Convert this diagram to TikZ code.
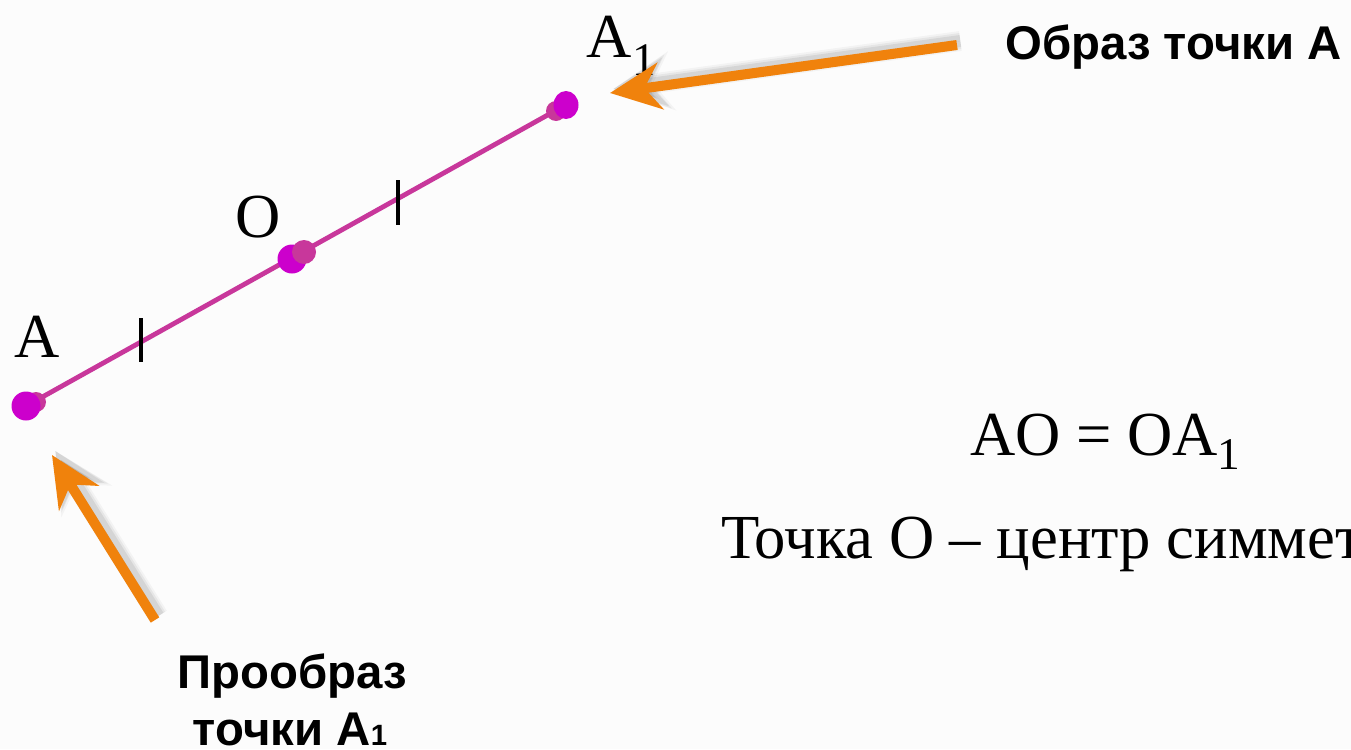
\documentclass[tikz,border=0pt]{standalone}
\usepackage{fontspec}
\setmainfont{Liberation Serif}
\newfontfamily\sansf{Liberation Sans}
\usetikzlibrary{arrows.meta}
\definecolor{bg}{HTML}{FCFCFC}
\definecolor{seg}{HTML}{C8379B}
\definecolor{mag}{HTML}{CC00CC}
\definecolor{dotpink}{HTML}{C8379B}
\definecolor{orng}{HTML}{F0820C}
\newcommand{\subone}{\kern1pt\raisebox{-13pt}{\fontsize{35}{36}\selectfont 1}}
\newcommand{\subonelow}{\raisebox{-11pt}{\fontsize{34}{36}\selectfont 1}}
\begin{document}
\begin{tikzpicture}[x=0.75pt,y=-0.75pt,
  lbl/.style={font=\fontsize{47}{50}\selectfont, inner sep=0pt, anchor=base west},
  call/.style={font=\sansf\bfseries\fontsize{35.5}{38}\selectfont, inner sep=0pt, anchor=base},
  pointer/.style={draw=orng, line width=7.5pt, -{Stealth[length=38pt,width=35pt,inset=12pt]}},
  blurA/.style={draw=black, draw opacity=0.035, line width=15pt, -{Stealth[length=44pt,width=44pt,inset=14pt]}, fill opacity=0.035, fill=black},
  blurB/.style={draw=black, draw opacity=0.05, line width=12pt, -{Stealth[length=41pt,width=40pt,inset=13pt]}, fill opacity=0.05, fill=black},
  blurC/.style={draw=black, draw opacity=0.07, line width=9pt, -{Stealth[length=39pt,width=36pt,inset=12pt]}, fill opacity=0.07, fill=black},
  tick/.style={draw=black, line width=2.6pt},
  segment/.style={draw=seg, line width=3.6pt},
  magdot/.style={fill=mag},
  pinkdot/.style={fill=dotpink}
]
\fill[bg] (0,0) rectangle (1351,749);
\useasboundingbox (0,0) rectangle (1351,749);
\clip (0,0) rectangle (1351,749);

% points
\coordinate (A) at (28,405);
\coordinate (A1) at (562,107);
\coordinate (O) at (295,256);

% segment
\draw[segment] (A) -- (A1);

% ticks
\coordinate (k1t) at (141,318);
\coordinate (k1b) at (141,362);
\coordinate (k2t) at (398,180);
\coordinate (k2b) at (398,225);
\draw[tick] (k1t) -- (k1b);
\draw[tick] (k2t) -- (k2b);

% dots
\fill[pinkdot] (36,402) circle[radius=10];
\fill[magdot] (26,406) circle[radius=14.5];
\fill[magdot] (292,259) circle[radius=14.5];
\fill[pinkdot] (304,252) circle[radius=12];
\fill[pinkdot] (556,111) circle[radius=10];
\fill[magdot] (566,105) ellipse[x radius=12.5, y radius=14];

% point labels
\node[lbl] (lA) at (14,357) {A};
\node[lbl] (lO) at (235,237) {O};
\node[lbl] (lA1) at (586,58) {A\subone};

% callout arrows
\coordinate (t1) at (957,45);
\coordinate (h1) at (610,93);
\coordinate (t2) at (155,620);
\coordinate (h2) at (52,455);
\begin{scope}[transform canvas={xshift=2.5pt,yshift=3pt}]
  \draw[blurA] (t1) -- (h1);
  \draw[blurB] (t1) -- (h1);
  \draw[blurC] (t1) -- (h1);
  \draw[blurA] (t2) -- (h2);
  \draw[blurB] (t2) -- (h2);
  \draw[blurC] (t2) -- (h2);
\end{scope}
\draw[pointer] (t1) -- (h1);
\draw[pointer] (t2) -- (h2);

% callout texts
\node[call, anchor=base west] (obraz) at (1005,60) {Образ точки А};
\node[call] (proobraz) at (292,688) {Прообраз};
\node[call] (tochki) at (290,745) {точки А{\fontsize{22}{24}\selectfont 1}};

% formulas
\node[lbl] (eq) at (970,455) {AO = OA\subonelow};
\node[lbl] (center) at (721,558) {Точка О – центр симметрии};
\end{tikzpicture}
\end{document}
